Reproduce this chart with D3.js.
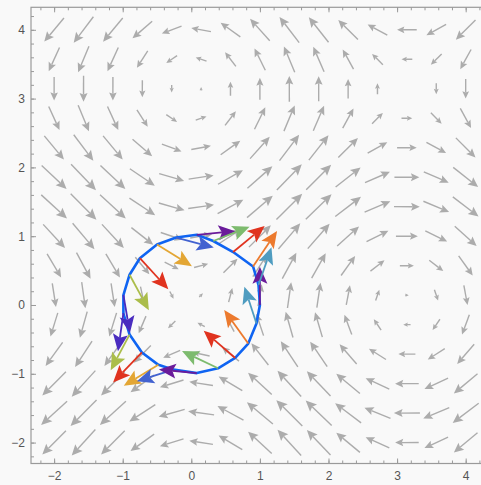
<!DOCTYPE html>
<html><head><meta charset="utf-8">
<script src="https://cdn.jsdelivr.net/npm/d3@7"></script>
<style>html,body{margin:0;padding:0;background:#f9f9f9;overflow:hidden}svg{display:block}</style>
</head><body><svg id="c" width="481" height="485"></svg>
<script>
// ---- data ----
const gridX = [-2, -1.571, -1.143, -0.714, -0.286, 0.143, 0.571, 1, 1.429, 1.857, 2.286, 2.714, 3.143, 3.571, 4];
const gridY = [-2, -1.571, -1.143, -0.714, -0.286, 0.143, 0.571, 1, 1.429, 1.857, 2.286, 2.714, 3.143, 3.571, 4];
// horizontal component of the field for each row (gridY), vertical component for each column (gridX)
const fieldU = [-0.909, -1.000, -0.910, -0.655, -0.282, 0.142, 0.541, 0.841, 0.990, 0.959, 0.755, 0.415, -0.001, -0.416, -0.757];
const fieldV = [-0.909, -1.000, -0.910, -0.655, -0.282, 0.142, 0.541, 0.841, 0.990, 0.959, 0.755, 0.415, -0.001, -0.416, -0.757];

// closed curve vertices
const curveX = [0.08, -0.22, -0.50, -0.75, -0.90, -0.99, -0.99, -0.90, -0.72, -0.48, -0.26, 0.08, 0.39, 0.64, 0.83, 0.95, 1.00, 0.98, 0.90, 0.61, 0.32];
const curveY = [1.02, 0.98, 0.88, 0.68, 0.44, 0.145, -0.12, -0.43, -0.69, -0.87, -0.94, -0.99, -0.92, -0.77, -0.56, -0.27, 0.00, 0.29, 0.56, 0.77, 0.93];
// field vectors at the curve vertices
const arrowU = [0.852, 0.830, 0.771, 0.629, 0.426, 0.144, -0.120, -0.417, -0.637, -0.764, -0.808, -0.836, -0.796, -0.696, -0.531, -0.267, 0.000, 0.286, 0.531, 0.696, 0.802];
const arrowV = [0.080, -0.218, -0.479, -0.682, -0.783, -0.836, -0.836, -0.783, -0.659, -0.462, -0.257, 0.080, 0.380, 0.597, 0.738, 0.813, 0.841, 0.830, 0.783, 0.573, 0.315];
const arrowColors = ["#6a1b9a", "#4262d0", "#e3a634", "#e0331f", "#abbd4a", "#4a2cbf", "#4a2cbf", "#abbd4a", "#e0331f", "#e3a634", "#4262d0", "#6a1b9a", "#7dbb6e", "#e0331f", "#ec7a2e", "#4f9cc0", "#6a1b9a", "#4f9cc0", "#ec7a2e", "#e0331f", "#7dbb6e"];

const xTicks = [-2, -1, 0, 1, 2, 3, 4];
const yTicks = [-2, -1, 0, 1, 2, 3, 4];

// ---- layout ----
const svg = d3.select("#c");
const x = d3.scaleLinear().domain([-2.337, 4.337]).range([31, 488.8]);
const y = d3.scaleLinear().domain([-2.304, 4.327]).range([463.5, 7.3]);
const frameColor = "#9a9a9a";
const textColor = "#555";
const grayScale = 26;        // px per unit of field (gray)
const colorScale = 0.66;     // data units per unit of field (colored)

const minorX = d3.range(-2.2, 4.35, 0.2).map(v => +v.toFixed(2));
const minorY = d3.range(-2.2, 4.35, 0.2).map(v => +v.toFixed(2));

function arrowPath(x1, y1, x2, y2, headLen, halfW, notch) {
  const dx = x2 - x1, dy = y2 - y1;
  const len = Math.hypot(dx, dy);
  if (len < 1e-6) return null;
  const ux = dx / len, uy = dy / len, px = -uy, py = ux;
  const h = Math.min(headLen, len);
  const bx = x2 - ux * h, by = y2 - uy * h;
  const nx = x2 - ux * (h - notch), ny = y2 - uy * (h - notch);
  return {
    shaft: [x1, y1, nx, ny],
    head: `M${x2},${y2}L${bx + px * halfW},${by + py * halfW}L${nx},${ny}L${bx - px * halfW},${by - py * halfW}Z`
  };
}

// ---- gray vector field ----
const gGray = svg.append("g");
const gridPts = [];
gridY.forEach((gy, j) => gridX.forEach((gx, i) => gridPts.push({gx, gy, u: fieldU[j], v: fieldV[i]})));
gridPts.forEach(d => {
  const cx = x(d.gx), cy = y(d.gy);
  const vx = d.u * grayScale, vy = -d.v * grayScale;
  const len = Math.hypot(vx, vy);
  if (len < 0.3) return;
  const hl = Math.min(len * 0.9, 3 + 0.22 * len);
  const a = arrowPath(cx - vx / 2, cy - vy / 2, cx + vx / 2, cy + vy / 2, hl, hl * 0.46, hl * 0.18);
  if (!a) return;
  gGray.append("line").attr("x1", a.shaft[0]).attr("y1", a.shaft[1]).attr("x2", a.shaft[2]).attr("y2", a.shaft[3])
    .attr("stroke", "#acacac").attr("stroke-width", 1.4);
  gGray.append("path").attr("d", a.head).attr("fill", "#acacac");
});

// ---- curve ----
const curvePts = curveX.map((cx, i) => [x(cx), y(curveY[i])]);
svg.append("path")
  .attr("d", d3.line().curve(d3.curveLinearClosed)(curvePts))
  .attr("fill", "none").attr("stroke", "#0f64f2").attr("stroke-width", 2.6).attr("stroke-linejoin", "round");

// ---- colored arrows ----
const gCol = svg.append("g");
curveX.forEach((cx, i) => {
  const sx = x(cx), sy = y(curveY[i]);
  const ex = x(cx + arrowU[i] * colorScale), ey = y(curveY[i] + arrowV[i] * colorScale);
  const a = arrowPath(sx, sy, ex, ey, 17, 7.5, 3.5);
  if (!a) return;
  gCol.append("line").attr("x1", a.shaft[0]).attr("y1", a.shaft[1]).attr("x2", a.shaft[2]).attr("y2", a.shaft[3])
    .attr("stroke", arrowColors[i]).attr("stroke-width", 1.8);
  gCol.append("path").attr("d", a.head).attr("fill", arrowColors[i]);
});

// ---- frame & axes ----
const fmt = v => (v < 0 ? "\u2212" + Math.abs(v) : "" + v);
function styleAxis(g) {
  g.select(".domain").remove();
  g.selectAll("line").attr("stroke", frameColor);
  g.selectAll("text").attr("fill", textColor).style("font-family", "Liberation Sans, Arial, sans-serif").style("font-size", "12px");
}
const pBottom = 463.5, pTop = 7.3, pLeft = 31, pRight = 488.8;
svg.append("g").attr("transform", `translate(0,${pBottom})`)
  .call(d3.axisBottom(x).tickValues(minorX).tickSize(-3).tickFormat("")).call(styleAxis);
svg.append("g").attr("transform", `translate(0,${pBottom})`)
  .call(d3.axisBottom(x).tickValues(xTicks).tickSize(-5).tickPadding(8).tickFormat(fmt)).call(styleAxis);
svg.append("g").attr("transform", `translate(0,${pTop})`)
  .call(d3.axisTop(x).tickValues(minorX).tickSize(-3).tickFormat("")).call(styleAxis);
svg.append("g").attr("transform", `translate(0,${pTop})`)
  .call(d3.axisTop(x).tickValues(xTicks).tickSize(-5).tickFormat("")).call(styleAxis);
svg.append("g").attr("transform", `translate(${pLeft},0)`)
  .call(d3.axisLeft(y).tickValues(minorY).tickSize(-3).tickFormat("")).call(styleAxis);
svg.append("g").attr("transform", `translate(${pLeft},0)`)
  .call(d3.axisLeft(y).tickValues(yTicks).tickSize(-5).tickPadding(6).tickFormat(fmt)).call(styleAxis);
svg.append("rect").attr("x", pLeft).attr("y", pTop).attr("width", pRight - pLeft).attr("height", pBottom - pTop)
  .attr("fill", "none").attr("stroke", frameColor).attr("stroke-width", 1.2);
</script></body></html>
